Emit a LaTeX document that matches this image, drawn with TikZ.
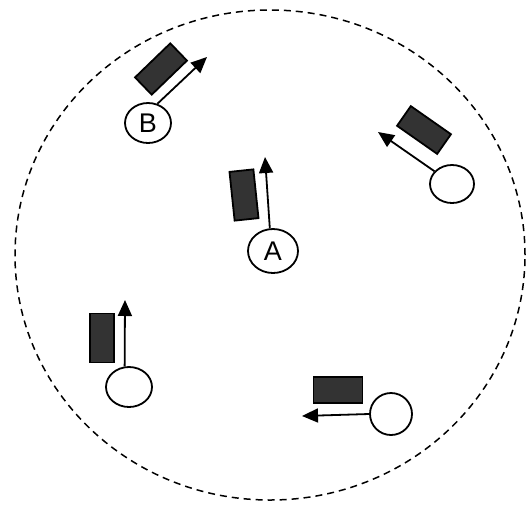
\documentclass[tikz,border=0pt]{standalone}
\usepackage{fontspec}
\setsansfont{Liberation Sans}
\usetikzlibrary{shapes.geometric, arrows.meta}

\begin{document}
\begin{tikzpicture}[
	x=1pt, y=-1pt, line width=1.8pt,
	>={Triangle[length=16pt, width=14pt]},
	robot/.style={ellipse, draw, fill=white, minimum width=46pt, minimum height=40pt,
		inner sep=0pt, font=\sffamily\fontsize{27}{27}\selectfont},
	block/.style={draw, fill=black!80, minimum width=49pt, minimum height=24pt, inner sep=0pt}
	]
	\useasboundingbox (0,0) rectangle (527,507);
	\draw[line width=1.5pt, dash pattern=on 7pt off 5pt] (270,255) ellipse [x radius=255pt, y radius=245pt];
	% robots
	\node[robot] (b) at (148,123) {B};
	\node[robot, minimum width=50pt, minimum height=44pt] (a) at (273,251) {A};
	\node[robot, minimum width=44pt, minimum height=38pt] (r1) at (452,184) {};
	\node[robot] (r2) at (129,387) {};
	\node[robot, minimum width=42pt, minimum height=42pt] (r3) at (391,414) {};
	% obstacles
	\node[block, rotate=44] (ob) at (161,69) {};
	\node[block, rotate=96] (oa) at (244,195) {};
	\node[block, rotate=-35] (o1) at (424,130) {};
	\node[block, rotate=90] (o2) at (102,338) {};
	\node[block, minimum height=26pt] (o3) at (338,390) {};
	% headings
	\coordinate (tb) at (207,57);
	\coordinate (ta) at (265,157);
	\coordinate (t1) at (378,132);
	\coordinate (t2) at (125,300);
	\coordinate (t3) at (302,416);
	\draw[->] (b.64) -- (tb);
	\draw[->] (a.98) -- (ta);
	\draw[->] (r1.144) -- (t1);
	\draw[->] (r2.102) -- (t2);
	\draw[->] (r3.180) -- (t3);
\end{tikzpicture}
\end{document}
